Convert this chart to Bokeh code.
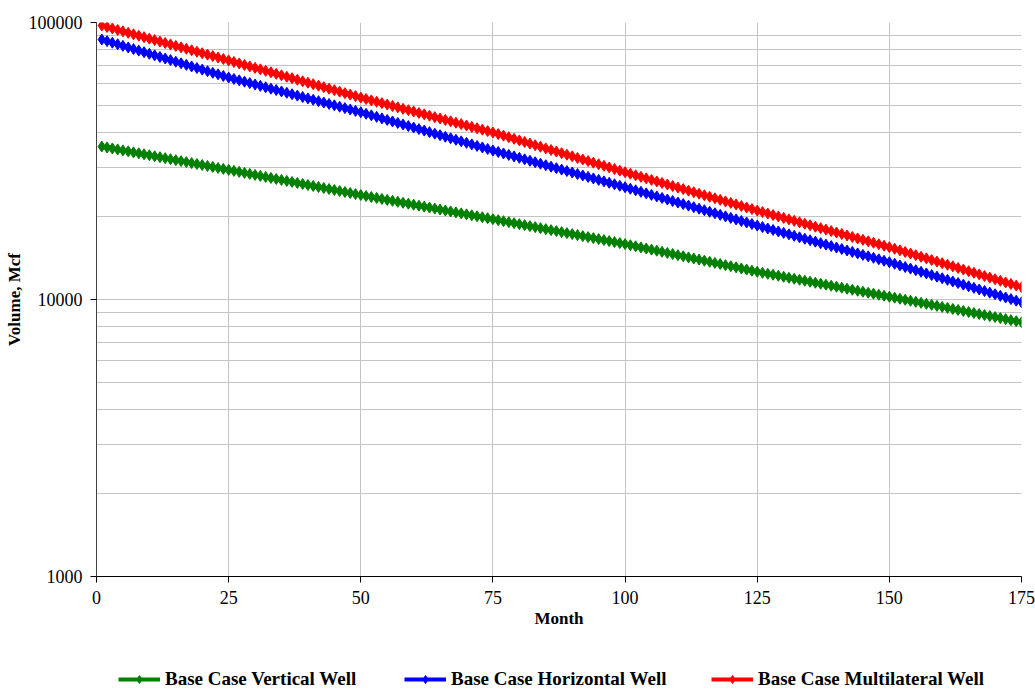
from bokeh.plotting import figure
from bokeh.layouts import column
from bokeh.models import (ColumnDataSource, Legend, LegendItem, FixedTicker,
                          LogTicker, PrintfTickFormatter)
from bokeh.embed import file_html
from bokeh.resources import INLINE

months = list(range(1, 176))

vertical_well = [
    35670, 35383, 35098, 34815, 34535, 34257, 33981, 33707, 33436, 33167, 32900, 32635, 32372,
    32111, 31853, 31596, 31342, 31089, 30839, 30591, 30344, 30100, 29858, 29617, 29379,
    29134, 28891, 28650, 28411, 28174, 27939, 27706, 27474, 27245, 27018, 26792, 26569, 26347,
    26127, 25909, 25693, 25479, 25266, 25055, 24846, 24639, 24433, 24229, 24027, 23826,
    23636, 23447, 23260, 23074, 22890, 22707, 22526, 22346, 22168, 21991, 21815, 21641, 21468,
    21297, 21127, 20958, 20791, 20625, 20460, 20297, 20135, 19974, 19815, 19657, 19500,
    19339, 19179, 19021, 18864, 18708, 18554, 18401, 18249, 18098, 17949, 17801, 17654, 17508,
    17363, 17220, 17078, 16937, 16797, 16658, 16521, 16385, 16249, 16115, 15982, 15850,
    15705, 15561, 15418, 15277, 15137, 14998, 14861, 14725, 14590, 14456, 14324, 14192, 14062,
    13933, 13806, 13679, 13554, 13430, 13307, 13185, 13064, 12944, 12826, 12708, 12592,
    12488, 12385, 12283, 12181, 12081, 11981, 11882, 11784, 11687, 11590, 11495, 11400, 11306,
    11213, 11120, 11028, 10937, 10847, 10758, 10669, 10581, 10494, 10407, 10321, 10236,
    10150, 10064, 9979, 9895, 9811, 9728, 9646, 9565, 9484, 9404, 9325, 9246, 9168,
    9091, 9014, 8938, 8863, 8788, 8714, 8640, 8567, 8495, 8423, 8352, 8282,
]

horizontal_well = [
    86800, 85665, 84545, 83439, 82348, 81271, 80208, 79159, 78124, 77102, 76094, 75099, 74117,
    73147, 72191, 71247, 70315, 69395, 68488, 67592, 66708, 65836, 64975, 64125, 63286,
    62559, 61841, 61131, 60429, 59735, 59049, 58371, 57701, 57038, 56383, 55736, 55096, 54463,
    53838, 53220, 52609, 52005, 51407, 50817, 50234, 49657, 49087, 48523, 47966, 47415,
    46816, 46225, 45641, 45065, 44496, 43934, 43379, 42831, 42290, 41756, 41229, 40708, 40194,
    39686, 39185, 38690, 38201, 37719, 37243, 36772, 36308, 35849, 35397, 34950, 34508,
    34089, 33675, 33266, 32862, 32463, 32069, 31680, 31295, 30915, 30540, 30169, 29803, 29441,
    29084, 28731, 28382, 28037, 27697, 27361, 27029, 26701, 26377, 26056, 25740, 25428,
    25106, 24788, 24474, 24164, 23858, 23556, 23257, 22963, 22672, 22385, 22101, 21821, 21545,
    21272, 21003, 20737, 20474, 20215, 19959, 19706, 19456, 19210, 18967, 18726, 18489,
    18265, 18044, 17825, 17609, 17396, 17185, 16977, 16772, 16569, 16368, 16170, 15974, 15781,
    15590, 15401, 15214, 15030, 14848, 14668, 14491, 14315, 14142, 13971, 13801, 13634,
    13454, 13276, 13100, 12927, 12756, 12587, 12420, 12256, 12094, 11933, 11775, 11620, 11466,
    11314, 11164, 11016, 10871, 10727, 10585, 10444, 10306, 10170, 10035, 9902, 9771,
]

multilateral_well = [
    97500, 96330, 95170, 94030, 92900, 91780, 90680, 89590, 88510, 87450, 86400, 85360, 84340,
    83320, 82320, 81330, 80350, 79390, 78430, 77490, 76560, 75640, 74730, 73830, 72940,
    72045, 71161, 70288, 69426, 68574, 67733, 66902, 66081, 65270, 64470, 63679, 62898, 62126,
    61364, 60611, 59868, 59133, 58408, 57691, 56984, 56285, 55594, 54912, 54239, 53573,
    52955, 52344, 51740, 51143, 50553, 49970, 49393, 48823, 48260, 47703, 47153, 46609, 46071,
    45540, 45014, 44495, 43982, 43474, 42973, 42477, 41987, 41502, 41024, 40550, 40082,
    39556, 39036, 38524, 38018, 37519, 37026, 36540, 36060, 35587, 35120, 34659, 34204, 33755,
    33312, 32874, 32443, 32017, 31596, 31182, 30772, 30368, 29970, 29576, 29188, 28805,
    28440, 28079, 27723, 27372, 27025, 26682, 26344, 26010, 25680, 25355, 25033, 24716, 24402,
    24093, 23788, 23486, 23188, 22894, 22604, 22318, 22035, 21755, 21480, 21207, 20938,
    20685, 20435, 20188, 19944, 19703, 19465, 19230, 18997, 18768, 18541, 18317, 18095, 17877,
    17661, 17447, 17236, 17028, 16822, 16619, 16418, 16220, 16024, 15830, 15639, 15450,
    15246, 15044, 14845, 14649, 14455, 14264, 14076, 13890, 13706, 13525, 13346, 13170, 12996,
    12824, 12654, 12487, 12322, 12159, 11998, 11839, 11683, 11528, 11376, 11225, 11077,
]

series_names = ["Base Case Vertical Well", "Base Case Horizontal Well", "Base Case Multilateral Well"]
series_colors = ["#008000", "#0000FF", "#FF0000"]
x_ticks = [0, 25, 50, 75, 100, 125, 150, 175]

FONT = "Liberation Serif"

p = figure(width=1035, height=640, output_backend="svg", toolbar_location=None,
           y_axis_type="log", x_range=(0, 175), y_range=(1000, 100000),
           min_border_left=96, min_border_right=14, min_border_top=22, min_border_bottom=64)
p.outline_line_color = None
p.background_fill_color = "white"
p.border_fill_color = "white"

# axes
p.xaxis.ticker = FixedTicker(ticks=x_ticks)
p.xaxis.axis_label = "Month"
p.yaxis.axis_label = "Volume, Mcf"
p.yaxis.ticker = LogTicker(num_minor_ticks=10)
p.yaxis.formatter = PrintfTickFormatter(format="%d")
for ax in (p.xaxis, p.yaxis):
    ax.major_label_text_font = FONT
    ax.major_label_text_font_size = "18px"
    ax.major_label_text_color = "black"
    ax.axis_label_text_font = FONT
    ax.axis_label_text_font_size = "17px"
    ax.axis_label_text_font_style = "bold"
    ax.axis_label_text_color = "black"
    ax.major_tick_in = 0
    ax.major_tick_out = 6
    ax.minor_tick_in = 0
    ax.minor_tick_out = 0
    ax.major_tick_line_color = "black"
    ax.major_label_standoff = 8
    ax.axis_label_standoff = 2
p.xaxis.axis_line_color = "black"
p.yaxis.axis_line_color = "#404040"

# grids
p.xgrid.ticker = FixedTicker(ticks=x_ticks)
p.xgrid.grid_line_color = "#c4c4c4"
p.ygrid.grid_line_color = "#c4c4c4"
p.ygrid.minor_grid_line_color = "#c4c4c4"

# legend strip below the chart (its frame is aligned with the chart frame, left edge at x=96)
lg = figure(width=1035, height=50, output_backend="svg", toolbar_location=None,
            x_axis_location=None, y_axis_location=None, x_range=(0, 1), y_range=(0, 1),
            min_border_left=0, min_border_right=0, min_border_top=0, min_border_bottom=0)
lg.outline_line_color = None
lg.xgrid.visible = False
lg.ygrid.visible = False

data = [vertical_well, horizontal_well, multilateral_well]
legend_x = [22, 308, 615]
for vals, name, col, lx in zip(data, series_names, series_colors, legend_x):
    src = ColumnDataSource(dict(x=months, y=vals))
    p.line("x", "y", source=src, line_color=col, line_width=3)
    p.scatter("x", "y", source=src, marker="diamond", size=11,
              fill_color=col, line_color=col)
    # off-range proxy glyphs so that the legend strip draws its swatches
    proxy = ColumnDataSource(dict(x=[-5, -4], y=[-5, -4]))
    lr = lg.line("x", "y", source=proxy, line_color=col, line_width=4)
    sr = lg.scatter("x", "y", source=proxy, marker="diamond", size=11,
                    fill_color=col, line_color=col)
    leg = Legend(items=[LegendItem(label=name, renderers=[lr, sr])],
                 location=(lx, 0), orientation="horizontal",
                 padding=0, margin=0, glyph_width=42, glyph_height=20,
                 label_standoff=5, border_line_color=None,
                 background_fill_alpha=0,
                 label_text_font=FONT, label_text_font_size="19px",
                 label_text_font_style="bold", label_text_color="black")
    lg.add_layout(leg, "center")

layout = column(p, lg, spacing=0)
open("out.html", "w").write(file_html(layout, INLINE))
